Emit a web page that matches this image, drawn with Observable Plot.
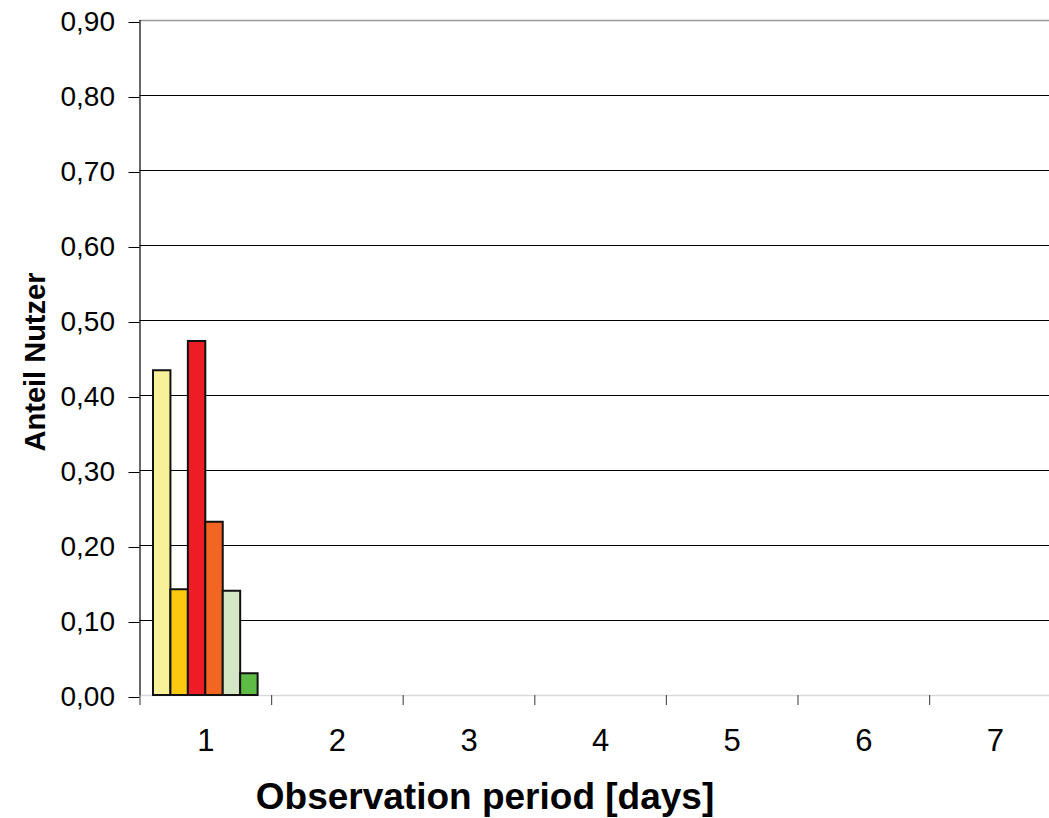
<!DOCTYPE html>
<html>
<head>
<meta charset="utf-8">
<script src="https://cdn.jsdelivr.net/npm/d3@7"></script>
<script src="https://cdn.jsdelivr.net/npm/@observablehq/plot@0.6"></script>
<style>
  html, body { margin: 0; padding: 0; background: #fff; }
  #wrap { position: relative; width: 1049px; height: 818px; overflow: hidden; font-family: "Liberation Sans", Arial, sans-serif; }
  #ylabel { position: absolute; left: 35px; top: 362px; transform: translate(-50%, -50%) rotate(-90deg); font-weight: bold; font-size: 29px; line-height: 1; white-space: nowrap; color: #000; }
  #xlabel { position: absolute; left: 485px; top: 778px; transform: translateX(-50%); font-weight: bold; font-size: 37px; line-height: 1; white-space: nowrap; color: #000; }
</style>
</head>
<body>
<div id="wrap">
  <div id="chart"></div>
  <div id="ylabel">Anteil Nutzer</div>
  <div id="xlabel">Observation period [days]</div>
</div>
<script>
// ---- data ----
const days = [1, 2, 3, 4, 5, 6, 7];
const dayLabels = ["1", "2", "3", "4", "5", "6", "7"];
const series = ["A", "B", "C", "D", "E", "F"];
const seriesDay = [1, 1, 1, 1, 1, 1];
const values = [0.433, 0.141, 0.472, 0.231, 0.139, 0.029];
const colors = ["#F7F199", "#FCC910", "#EE1C25", "#F26522", "#D4E6C5", "#5DBB46"];
const yTicks = [0, 0.1, 0.2, 0.3, 0.4, 0.5, 0.6, 0.7, 0.8, 0.9];

// ---- table ----
const rows = series.map((s, i) => ({ series: s, idx: i, day: seriesDay[i], value: values[i] }));
const groupWidth = 0.795;
const barW = groupWidth / series.length;
const boundaries = [0.5, ...days.slice(0, -1).map(d => d + 0.5)];
const fmt = d => d.toFixed(2).replace(".", ",");

const chart = Plot.plot({
  width: 1049,
  height: 818,
  marginLeft: 139.5,
  marginRight: -11.7,
  marginTop: 20,
  marginBottom: 123,
  style: { fontFamily: "'Liberation Sans', Arial, sans-serif", color: "#000", background: "#fff" },
  x: { type: "linear", domain: [0.5, 7.5] },
  y: { domain: [0, 0.9] },
  color: { domain: series, range: colors },
  marks: [
    Plot.ruleY(yTicks.filter(t => t > 0 && t < 0.9), { stroke: "#000", strokeWidth: 1 }),
    Plot.ruleY([0.9], { stroke: "#999", strokeWidth: 1.5 }),
    Plot.ruleY([0], { stroke: "#d9d9d9", strokeWidth: 1.5 }),
    Plot.rectY(rows, {
      x1: d => d.day - groupWidth / 2 + d.idx * barW,
      x2: d => d.day - groupWidth / 2 + (d.idx + 1) * barW,
      y1: 0,
      y2: "value",
      fill: "series",
      stroke: "#111",
      strokeWidth: 2
    }),
    Plot.ruleX([0.5], { y1: 0, y2: 0.9, stroke: "#000", strokeWidth: 1.2 }),
    Plot.axisX(boundaries, { tickSize: 10, tickFormat: () => "", stroke: "#555", strokeWidth: 1.2 }),
    Plot.axisX(days, { tickSize: 0, tickPadding: 33, tickFormat: (d, i) => dayLabels[i], fontSize: 31, fill: "#000" }),
    Plot.axisY(yTicks, { tickSize: 11, tickPadding: 14, tickFormat: fmt, fontSize: 28, dy: 2, stroke: "#000", fill: "#000", label: null })
  ]
});
document.getElementById("chart").appendChild(chart);
</script>
</body>
</html>
